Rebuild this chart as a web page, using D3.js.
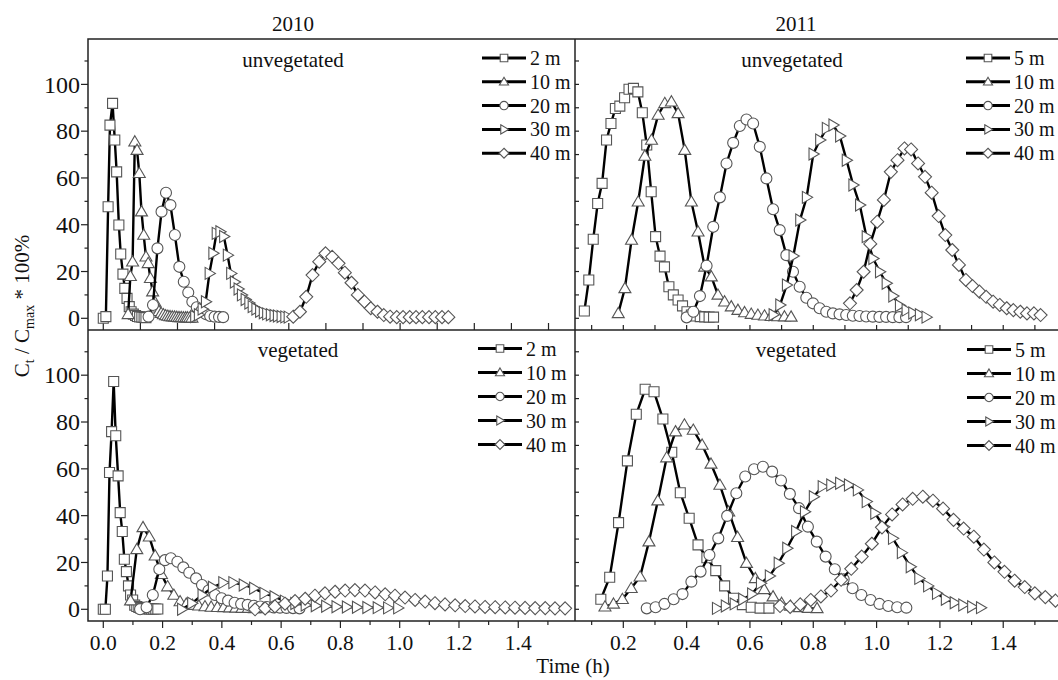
<!DOCTYPE html>
<html>
<head>
<meta charset="utf-8">
<script src="https://cdn.jsdelivr.net/npm/d3@7"></script>
<style>
body { margin: 0; background: #fff; }
svg text { font-family: "Liberation Serif", "DejaVu Serif", "Times New Roman", serif; }
</style>
</head>
<body>
<svg id="chart" width="1058" height="680" font-family="Liberation Serif, DejaVu Serif, serif"></svg>
<script>
// 2010, unvegetated (time on the top panel's own axis)
const uv10_2m_t = [0.000,0.007,0.013,0.018,0.025,0.031,0.036,0.042,0.047,0.053,0.058,0.064,0.070,0.075,0.081,0.087,0.092,0.098,0.104,0.110,0.115];
const uv10_2m_v = [0,0.7,47.7,82.6,91.9,76.2,62.6,39.9,27.5,18.9,12.8,8.5,5.0,2.8,1.8,1.2,0.8,0.6,0.5,0.4,0.3];
const uv10_10m_t = [0.067,0.073,0.079,0.085,0.091,0.097,0.103,0.109,0.115,0.121,0.127,0.133,0.139,0.144,0.150,0.156,0.162,0.168,0.174,0.180,0.186,0.192,0.198,0.204,0.210,0.216,0.222,0.227,0.233,0.239];
const uv10_10m_v = [1.7,18,24.2,75.5,71.9,62,45.6,35.6,26.3,23.5,17.1,11.4,7,4.5,3,2.2,1.6,1.2,1,0.8,0.7,0.6,0.5,0.4,0.4,0.3,0.3,0.3,0.2,0.2];
const uv10_20m_t = [0.122,0.134,0.146,0.157,0.169,0.181,0.193,0.205,0.217,0.229,0.240,0.252,0.264,0.276,0.288,0.300,0.312,0.323];
const uv10_20m_v = [0.7,5.7,29.9,45.6,53.7,48.4,35.6,22,15.6,11,7.1,4.7,3.1,1.8,1.0,0.7,0.6,0.5];
const uv10_30m_t = [0.247,0.257,0.267,0.276,0.286,0.296,0.305,0.315,0.325,0.335,0.344,0.354,0.364,0.373,0.383,0.393,0.402,0.412,0.422,0.432,0.441,0.451,0.461,0.470,0.480,0.490,0.499];
const uv10_30m_v = [0.8,1.5,4,7.1,19.2,27.8,36.3,37,35,27,19.2,15.5,12.5,10,8,6.5,5,4,3,2.4,1.9,1.5,1.2,1,0.8,0.6,0.5];
const uv10_40m_t = [0.512,0.530,0.547,0.564,0.582,0.599,0.617,0.634,0.651,0.669,0.686,0.704,0.721,0.739,0.756,0.773,0.791,0.808,0.826,0.843,0.860,0.878,0.895,0.913,0.930];
const uv10_40m_v = [0.7,2.8,9.2,18.5,24.2,27.8,26.3,23.5,19.5,15.2,10,7.1,4.3,2.8,1.4,0.7,0.5,0.5,0.5,0.5,0.5,0.5,0.5,0.5,0.5];

// 2010, vegetated
const v10_2m_t = [0,0.007,0.014,0.021,0.028,0.035,0.042,0.050,0.057,0.064,0.071,0.078,0.085,0.092,0.099,0.106,0.113,0.120,0.127,0.134,0.142,0.149,0.156,0.163,0.170,0.177,0.184];
const v10_2m_v = [0,0,14.2,58.4,75.9,97.3,74.1,57,41.3,33.2,21.4,16.1,10,6.1,4,1.8,1.2,0.8,0.5,0.4,0.3,0.2,0.2,0.1,0.1,0.1,0.1];
const v10_10m_t = [0.092,0.113,0.134,0.155,0.175,0.196,0.217,0.238,0.259,0.280,0.301,0.322,0.343,0.364,0.385,0.406,0.426,0.447,0.468,0.489,0.510,0.531];
const v10_10m_v = [3.7,25.6,35,31,22.9,15,9.7,6.1,3.3,2.3,1.8,1.5,1.2,1,0.9,0.8,0.7,0.6,0.5,0.5,0.4,0.4];
const v10_20m_t = [0.124,0.146,0.167,0.189,0.208,0.228,0.250,0.270,0.290,0.313,0.333,0.355,0.377,0.399,0.421,0.443,0.465,0.487,0.508,0.530,0.552,0.574,0.596,0.618,0.640,0.662];
const v10_20m_v = [0,0.9,6.1,17.1,21,21.8,20.3,17.9,15.6,13.2,10.4,8,6.1,4.7,3.7,2.8,2.3,1.9,1.5,1.2,1,0.8,0.7,0.6,0.5,0.4];
const v10_30m_t = [0.265,0.299,0.334,0.369,0.404,0.438,0.473,0.508,0.543,0.577,0.612,0.647,0.682,0.716,0.751,0.786,0.821,0.855,0.890,0.925,0.960,0.994];
const v10_30m_v = [0,2.6,6.1,9.4,11.4,11.4,10.4,9,6.8,5.4,3.5,2.5,1.8,1.5,1.3,1.1,1,0.9,0.8,0.7,0.6,0.6];
const v10_40m_t = [0.512,0.546,0.579,0.613,0.647,0.681,0.714,0.748,0.782,0.816,0.849,0.883,0.917,0.951,0.984,1.018,1.052,1.086,1.119,1.153,1.187,1.221,1.254,1.288,1.322,1.356,1.389,1.423,1.457,1.491,1.524,1.558];
const v10_40m_v = [0,0.4,1.2,2.4,3.5,4.5,5.8,6.8,7.5,8,8.2,8,7.2,6.4,5.8,5,4,3.3,2.6,2.1,1.7,1.4,1.2,1,0.9,0.8,0.7,0.6,0.5,0.5,0.4,0.4];

// 2011, unvegetated
const uv11_5m_t = [0.077,0.091,0.105,0.119,0.133,0.147,0.161,0.175,0.189,0.204,0.218,0.232,0.246,0.260,0.274,0.288,0.302,0.316,0.330,0.344,0.358,0.373,0.387,0.401,0.415,0.429,0.443,0.457,0.471,0.485];
const uv11_5m_v = [3.1,16.4,33.8,49.1,57.7,76.2,83.3,89.7,90.7,94.3,97.9,98.3,96.8,87.9,74.1,54.1,34.9,26.6,22,13.5,10,7.8,5.3,2.8,1.4,1,0.7,0.6,0.5,0.5];
const uv11_10m_t = [0.184,0.205,0.226,0.247,0.268,0.289,0.310,0.331,0.352,0.373,0.394,0.415,0.436,0.457,0.478,0.499,0.520,0.541,0.562,0.583,0.604,0.625,0.646,0.667,0.688,0.709,0.730];
const uv11_10m_v = [2.1,12.8,33.5,49.8,69.4,76.2,86.9,91.9,92.6,87.6,71.9,49.8,37,22,17.8,10,7.1,5,3.5,2.5,1.8,1.4,1.1,0.9,0.8,0.7,0.6];
const uv11_20m_t = [0.400,0.421,0.442,0.463,0.484,0.505,0.526,0.547,0.568,0.589,0.610,0.631,0.652,0.673,0.694,0.715,0.736,0.757,0.778,0.799,0.820,0.841,0.862,0.883,0.904,0.925,0.946,0.967,0.988,1.009,1.030,1.051,1.072,1.093];
const uv11_20m_v = [0.4,2.8,9.5,22.5,39.1,51.7,66.2,75,82.2,85,83.3,73.3,59.8,46.6,37.7,27,19.9,13.5,8.8,6.4,4.3,2.8,2.1,1.7,1.4,1.1,1,0.8,0.7,0.6,0.6,0.5,0.5,0.5];
const uv11_30m_t = [0.674,0.695,0.716,0.737,0.758,0.779,0.800,0.821,0.842,0.863,0.884,0.905,0.926,0.947,0.968,0.989,1.010,1.031,1.052,1.073,1.094,1.115,1.136,1.157];
const uv11_30m_v = [1.5,5.7,14.2,26.6,42,51.7,70.2,76.2,81.2,82.6,77.9,67.6,57,48.4,34.9,25.6,19.9,15,9.5,5.5,3.5,2.3,1.5,0.5];
const uv11_40m_t = [0.916,0.937,0.959,0.980,1.002,1.023,1.045,1.066,1.088,1.109,1.131,1.153,1.174,1.196,1.217,1.239,1.260,1.282,1.303,1.325,1.346,1.368,1.389,1.411,1.432,1.454,1.475,1.497,1.518];
const uv11_40m_v = [6.4,12.1,19.9,31.8,41.3,50.6,62.6,67.6,72.6,72.2,66.2,60.5,53.7,43.7,35.6,29.2,22.8,16.4,13.8,11.4,9.2,7.1,5.7,4.3,3.5,2.8,2.1,2.1,1.4];

// 2011, vegetated
const v11_5m_t = [0.129,0.157,0.185,0.213,0.241,0.269,0.297,0.325,0.353,0.380,0.408,0.436,0.464,0.492,0.520,0.548,0.576,0.604,0.632,0.660];
const v11_5m_v = [4.3,13.7,37,63.4,83.3,94,92.9,81.3,67.1,49.8,38.9,27.5,22,16.5,10,4.7,2,0.9,0.5,0.5];
const v11_10m_t = [0.142,0.169,0.197,0.225,0.253,0.281,0.309,0.337,0.365,0.393,0.421,0.449,0.477,0.505,0.533,0.561,0.589,0.617,0.645,0.673,0.700,0.728,0.756,0.784,0.812];
const v11_10m_v = [1.1,2.3,4.3,9,13.9,28.9,46.4,64.8,75.9,78.8,76.6,70.2,62.1,53.1,41.7,30.8,19.7,13.2,8.5,5.4,2.6,1.4,0.8,0.5,0.4];
const v11_20m_t = [0.274,0.302,0.330,0.359,0.387,0.415,0.444,0.472,0.500,0.528,0.557,0.585,0.613,0.641,0.670,0.698,0.726,0.755,0.783,0.811,0.839,0.868,0.896,0.924,0.952,0.981,1.009,1.037,1.065,1.094];
const v11_20m_v = [0.4,0.9,2.3,4.3,6.5,11.8,16.1,23.2,30.3,39.9,49.6,56.7,59.8,60.9,58.8,55,49.3,43.2,35.3,28.9,22.5,17.1,12.8,9,6.1,4,2.3,1.4,0.9,0.7];
const v11_30m_t = [0.495,0.523,0.551,0.578,0.606,0.634,0.662,0.690,0.717,0.745,0.773,0.801,0.829,0.856,0.884,0.912,0.940,0.968,0.995,1.023,1.051,1.079,1.107,1.134,1.162,1.190,1.218,1.246,1.273,1.301,1.329];
const v11_30m_v = [0.4,1.4,2.3,4.3,6.5,11.1,14.2,19.7,26.1,33.2,41.7,48.1,52.4,53.1,53.8,53.1,51,46,41,35.3,30.3,24.2,18.2,13.2,10,6.8,4.3,2.8,1.8,1.1,0.7];
const v11_40m_t = [0.695,0.727,0.759,0.792,0.824,0.856,0.888,0.920,0.953,0.985,1.017,1.049,1.082,1.114,1.146,1.178,1.210,1.243,1.275,1.307,1.339,1.372,1.404,1.436,1.468,1.500,1.533,1.565];
const v11_40m_v = [1.4,1.0,2.1,4,5.5,8,12.6,17.3,22.5,28,35,40.5,44.8,47.2,48.1,46.4,43,38.2,34.5,31,25.5,20,16,12.2,9.5,6.8,5.2,3.7];

const shapes = ["square", "triangle", "circle", "right", "diamond"];
const labels2010 = ["2 m", "10 m", "20 m", "30 m", "40 m"];
const labels2011 = ["5 m", "10 m", "20 m", "30 m", "40 m"];
const yTicksMajor = [0, 20, 40, 60, 80, 100];
const yTicksAll = [0, 10, 20, 30, 40, 50, 60, 70, 80, 90, 100, 110];
const xLabelsLeft = [0, 0.2, 0.4, 0.6, 0.8, 1.0, 1.2, 1.4];
const xLabelsRight = [0.2, 0.4, 0.6, 0.8, 1.0, 1.2, 1.4];

const FONT = "'Liberation Serif', 'DejaVu Serif', serif";
const svg = d3.select("#chart");

function markerPath(shape, s) {
    switch (shape) {
        case "square": return `M${-s},${-s}H${s}V${s}H${-s}Z`;
        case "triangle": return `M0,${-s * 1.2}L${s * 1.2},${s * 0.85}L${-s * 1.2},${s * 0.85}Z`;
        case "circle": { const r = s * 1.1; return `M${r},0A${r},${r} 0 1,1 ${-r},0A${r},${r} 0 1,1 ${r},0Z`; }
        case "right": return `M${-s * 0.85},${-s * 1.2}L${s * 1.2},0L${-s * 0.85},${s * 1.2}Z`;
        case "diamond": return `M0,${-s * 1.3}L${s * 1.3},0L0,${s * 1.3}L${-s * 1.3},0Z`;
    }
}

function label(x, y, txt, anchor, size) {
    return svg.append("text").attr("x", x).attr("y", y)
        .attr("text-anchor", anchor || "middle")
        .attr("font-family", FONT).attr("font-size", size || 21).attr("fill", "#111")
        .text(txt);
}

const yTop = d3.scaleLinear().domain([-5, 119.4]).range([330, 39]);
const yBottom = d3.scaleLinear().domain([-5, 119.3]).range([621, 330]);

const panels = [
    {
        x: d3.scaleLinear().domain([-0.0412, 1.2714]).range([88, 575]), y: yTop,
        series: [[uv10_2m_t, uv10_2m_v], [uv10_10m_t, uv10_10m_v], [uv10_20m_t, uv10_20m_v], [uv10_30m_t, uv10_30m_v], [uv10_40m_t, uv10_40m_v]],
        labels: labels2010, legend: { x: 482, y: 58, step: 23.8 }, title: { x: 293, y: 67, text: "unvegetated" }
    },
    {
        x: d3.scaleLinear().domain([-0.0516, 1.5914]).range([88, 575]), y: yBottom,
        series: [[v10_2m_t, v10_2m_v], [v10_10m_t, v10_10m_v], [v10_20m_t, v10_20m_v], [v10_30m_t, v10_30m_v], [v10_40m_t, v10_40m_v]],
        labels: labels2010, legend: { x: 478, y: 348.5, step: 24 }, title: { x: 298, y: 357, text: "vegetated" }
    },
    {
        x: d3.scaleLinear().domain([0.0474, 1.573]).range([575, 1058]), y: yTop,
        series: [[uv11_5m_t, uv11_5m_v], [uv11_10m_t, uv11_10m_v], [uv11_20m_t, uv11_20m_v], [uv11_30m_t, uv11_30m_v], [uv11_40m_t, uv11_40m_v]],
        labels: labels2011, legend: { x: 966, y: 58, step: 23.8 }, title: { x: 792, y: 67, text: "unvegetated" }
    },
    {
        x: d3.scaleLinear().domain([0.0474, 1.573]).range([575, 1058]), y: yBottom,
        series: [[v11_5m_t, v11_5m_v], [v11_10m_t, v11_10m_v], [v11_20m_t, v11_20m_v], [v11_30m_t, v11_30m_v], [v11_40m_t, v11_40m_v]],
        labels: labels2011, legend: { x: 967, y: 349.5, step: 24 }, title: { x: 796, y: 357, text: "vegetated" }
    }
];

// frame
const frame = svg.append("g").attr("stroke", "#222").attr("stroke-width", 1.5).attr("fill", "none");
frame.append("path").attr("d", "M1058,39H88V621H1058");
frame.append("path").attr("d", "M88,330H1058");
frame.append("path").attr("d", "M575,39V621");

// y ticks, left panels (outside) and right panels (inside)
[yTop, yBottom].forEach(y => {
    svg.append("g").selectAll("line").data(yTicksAll).enter().append("line")
        .attr("x1", d => yTicksMajor.includes(d) ? 81 : 84.5).attr("x2", 88)
        .attr("y1", d => y(d)).attr("y2", d => y(d))
        .attr("stroke", "#222").attr("stroke-width", 1.2);
    svg.append("g").selectAll("line").data(yTicksAll).enter().append("line")
        .attr("x1", 575).attr("x2", 579)
        .attr("y1", d => y(d)).attr("y2", d => y(d))
        .attr("stroke", "#222").attr("stroke-width", 1.2);
    yTicksMajor.forEach(d => label(80, y(d), d, "end", 24).attr("dy", "0.34em"));
});

// x ticks on top panels (pointing up into the panel)
[panels[0], panels[2]].forEach((p, i) => {
    const ticks = d3.range(0, 16).map(k => k / 10).filter(t => t >= p.x.domain()[0] && t <= p.x.domain()[1]);
    svg.append("g").selectAll("line").data(ticks).enter().append("line")
        .attr("x1", d => p.x(d)).attr("x2", d => p.x(d))
        .attr("y1", 330).attr("y2", i === 0 ? 323 : 325)
        .attr("stroke", "#222").attr("stroke-width", 1.2);
});

// x ticks and labels on bottom panels
[[panels[1], xLabelsLeft], [panels[3], xLabelsRight]].forEach(([p, lab]) => {
    const ticks = d3.range(0, 16).map(k => k / 10).filter(t => t >= p.x.domain()[0] && t <= p.x.domain()[1]);
    svg.append("g").selectAll("line").data(ticks).enter().append("line")
        .attr("x1", d => p.x(d)).attr("x2", d => p.x(d))
        .attr("y1", 621).attr("y2", d => Math.round(d * 10) % 2 === 0 ? 628 : 625)
        .attr("stroke", "#222").attr("stroke-width", 1.2);
    lab.forEach(d => label(p.x(d), 650, d3.format(".1f")(d), "middle", 21.5));
});

// data
panels.forEach(p => {
    const line = d3.line().x(d => p.x(d[0])).y(d => p.y(d[1]));
    p.series.forEach((s, i) => {
        const pts = d3.zip(s[0], s[1]);
        const g = svg.append("g");
        g.append("path").attr("d", line(pts))
            .attr("fill", "none").attr("stroke", "#000").attr("stroke-width", 2.4);
        g.selectAll("path.m").data(pts).enter().append("path").attr("class", "m")
            .attr("transform", d => `translate(${p.x(d[0])},${p.y(d[1])})`)
            .attr("d", markerPath(shapes[i], 5))
            .attr("fill", "#fff").attr("stroke", "#555").attr("stroke-width", 1.1);
    });

    // legend
    const lg = svg.append("g").attr("transform", `translate(${p.legend.x},${p.legend.y})`);
    p.labels.forEach((lab, i) => {
        const ly = i * p.legend.step;
        lg.append("line").attr("x1", 0).attr("x2", 44).attr("y1", ly).attr("y2", ly)
            .attr("stroke", "#000").attr("stroke-width", 3);
        lg.append("path").attr("transform", `translate(22,${ly})`)
            .attr("d", markerPath(shapes[i], 3.8))
            .attr("fill", "#fff").attr("stroke", "#555").attr("stroke-width", 1.1);
        lg.append("text").attr("x", 48).attr("y", ly + 7)
            .attr("font-family", FONT).attr("font-size", 20).attr("fill", "#111").text(lab);
    });

    label(p.title.x, p.title.y, p.title.text);
});

// year titles
label(293, 31, "2010");
label(796, 31, "2011");

// axis titles
label(573, 673, "Time (h)");

const ylab = svg.append("text").attr("transform", "translate(29,306) rotate(-90)")
    .attr("text-anchor", "middle").attr("font-family", FONT)
    .attr("font-size", 21).attr("fill", "#111");
ylab.append("tspan").text("C");
ylab.append("tspan").attr("dy", 5).attr("font-size", 14).text("t");
ylab.append("tspan").attr("dy", -5).text(" / C");
ylab.append("tspan").attr("dy", 5).attr("font-size", 14).text("max");
ylab.append("tspan").attr("dy", -5).text(" * 100%");
</script>
</body>
</html>
